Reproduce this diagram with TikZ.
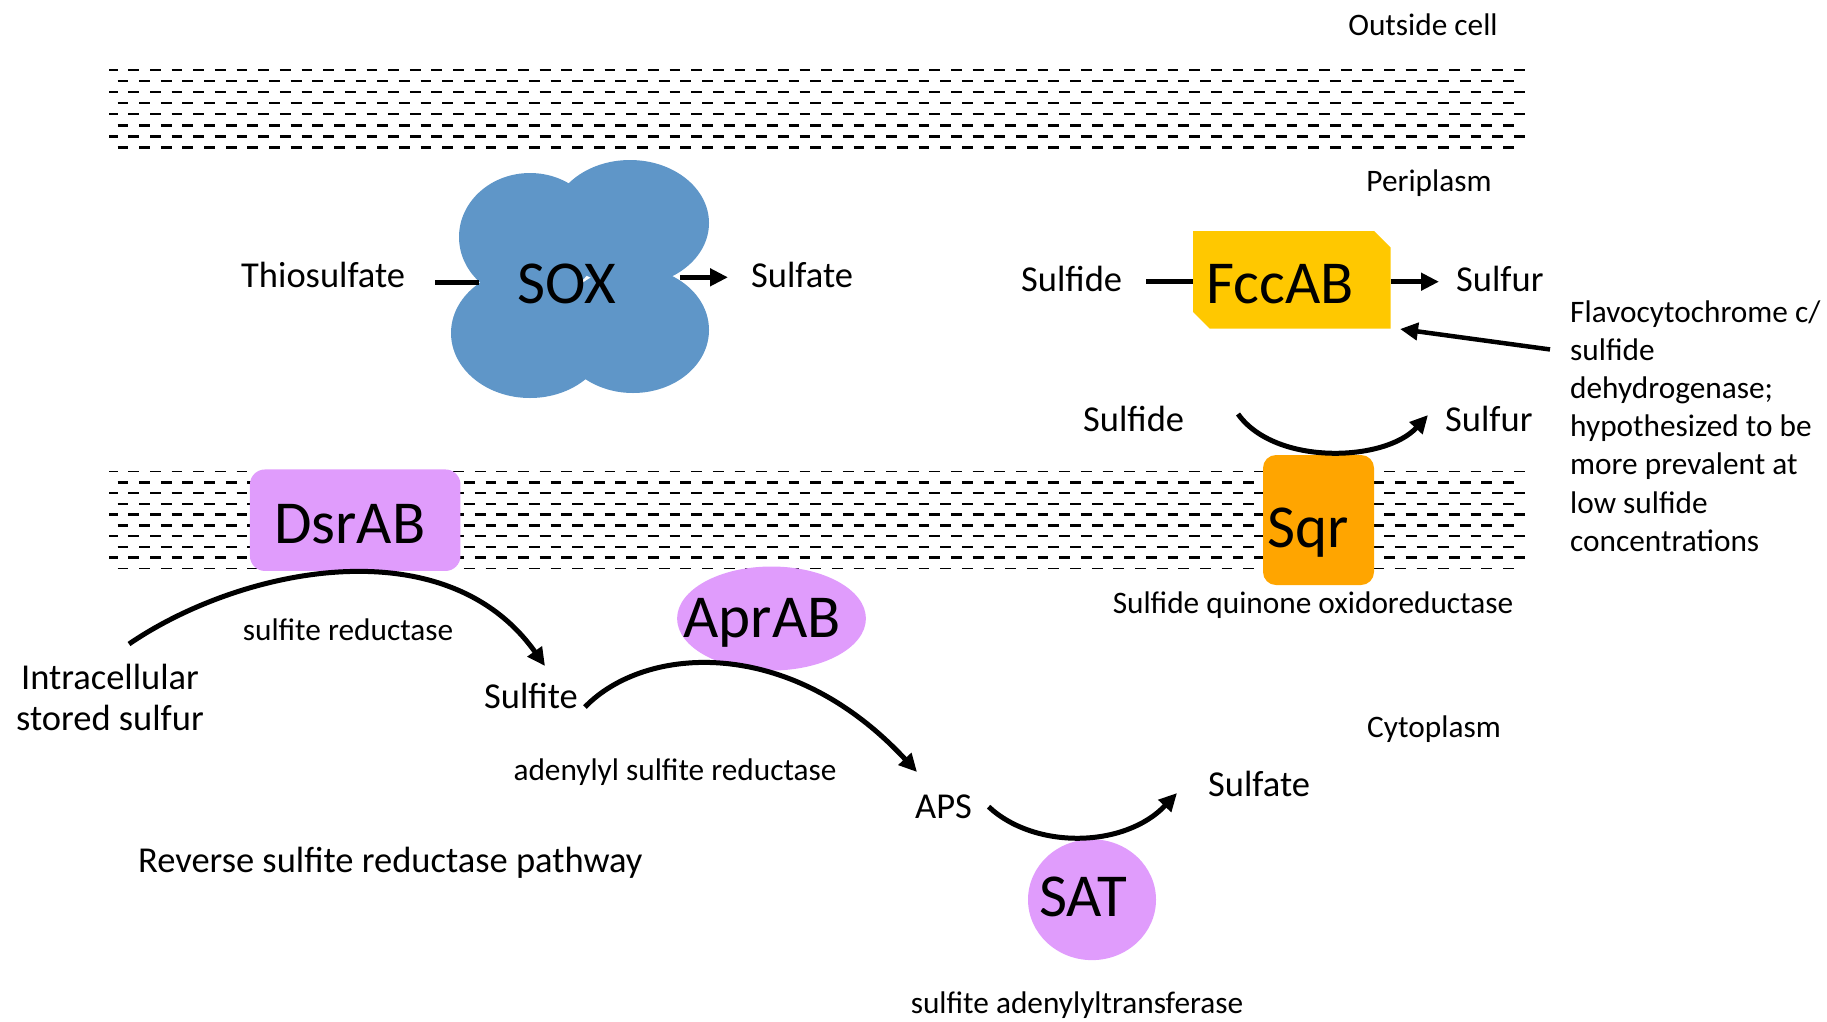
\documentclass[tikz,border=0pt]{standalone}
\usepackage{fontspec}
\setmainfont{Carlito}
\usetikzlibrary{arrows.meta,shapes.geometric}

\definecolor{soxblue}{RGB}{95,150,200}
\definecolor{fccyellow}{RGB}{255,200,0}
\definecolor{sqrorange}{RGB}{255,165,0}
\definecolor{enzviolet}{RGB}{224,156,252}

\begin{document}
\begin{tikzpicture}[x=1pt,y=-1pt,
  lbl/.style={inner sep=0pt, font=\fontsize{36.5}{44}\selectfont},
  small/.style={inner sep=0pt, font=\fontsize{31.3}{38.2}\selectfont},
  big/.style={inner sep=0pt, font=\fontsize{61}{73}\selectfont},
  conn/.style={line width=4.5pt},
  flow/.style={line width=4.5pt, -{Triangle[length=18pt,width=17pt]}},
  curved/.style={flow, line width=5pt},
  memrow/.style={line width=2.6pt, dash pattern=on 10.8pt off 10.85pt},
  enzbox/.style={fill=enzviolet, rounded corners=15pt},
]
\useasboundingbox (0,0) rectangle (1827,1021);

% outer membrane
\foreach \i in {0,...,7} {
  \pgfmathsetmacro\y{70+11.04*\i}
  \ifodd\i \draw[memrow] (117.5,\y) -- (1514,\y);
  \else \draw[memrow, dash phase=2.3pt] (109,\y) -- (1525,\y); \fi
}
% inner membrane
\foreach \i in {0,...,9} {
  \pgfmathsetmacro\y{471.7+10.73*\i}
  \pgfmathsetmacro\w{(\i==0 || \i==9) ? 1.3 : 2.6}
  \ifodd\i \draw[memrow, line width=\w pt] (117.5,\y) -- (1514,\y);
  \else \draw[memrow, line width=\w pt, dash phase=2.3pt] (109,\y) -- (1525,\y); \fi
}

% SOX complex drawn as a four-lobed cloud
\fill[soxblue] (530,237) ellipse [x radius=71, y radius=64];
\fill[soxblue] (630,223) ellipse [x radius=79, y radius=63];
\fill[soxblue] (530,333) ellipse [x radius=79, y radius=65];
\fill[soxblue] (633,330) ellipse [x radius=76, y radius=63];
\coordinate (soxW) at (479,282.7);
\coordinate (soxE) at (680,277.3);

% FccAB, a box with two cut corners
\fill[fccyellow] (1193,231) -- (1374,231) -- (1390.5,247.5) -- (1390.5,328.5)
  -- (1209.5,328.5) -- (1193,312) -- cycle;
\coordinate (fccW) at (1193,281.7);
\coordinate (fccE) at (1390.5,281.7);
\coordinate (fccSE) at (1400,329);

% membrane-bound and cytoplasmic enzymes
\node[fill=sqrorange, rounded corners=13pt, minimum width=111pt, minimum height=130pt, inner sep=0pt] (sqrbox) at (1318.5,520) {};
\node[enzbox, minimum width=210.5pt, minimum height=101.5pt, inner sep=0pt] (dsrbox) at (355.2,520.2) {};
\node[ellipse, fill=enzviolet, minimum width=188.8pt, minimum height=104pt, inner sep=0pt] (aprbox) at (771.5,618.5) {};
\node[ellipse, fill=enzviolet, minimum width=128pt, minimum height=120.8pt, inner sep=0pt] (satbox) at (1092,899.7) {};

% compartment labels
\node[small, anchor=base] (outside) at (1423,35) {Outside cell};
\node[small, anchor=base] (peri) at (1429,191) {Periplasm};
\node[small, anchor=base] (cyto) at (1434,737) {Cytoplasm};

% enzyme names
\node[big, anchor=base] (sox) at (567,303) {SOX};
\node[big, anchor=base] (fcc) at (1280,303) {FccAB};
\node[big, anchor=base] (sqr) at (1308,547) {Sqr};
\node[big, anchor=base] (dsr) at (349.6,543) {DsrAB};
\node[big, anchor=base] (apr) at (762,637) {AprAB};
\node[big, anchor=base] (sat) at (1083,916) {SAT};

% compounds
\node[lbl, anchor=base west] (thio) at (241,287) {Thiosulfate};
\node[lbl, anchor=base west] (sulfateA) at (751,287) {Sulfate};
\node[lbl, anchor=base west] (sulfideA) at (1021,291) {Sulfide};
\node[lbl, anchor=base west] (sulfurA) at (1456,291) {Sulfur};
\node[lbl, anchor=base west] (sulfideB) at (1083,431) {Sulfide};
\node[lbl, anchor=base west] (sulfurB) at (1445,431) {Sulfur};
\node[lbl, anchor=base] (stored1) at (110,689) {Intracellular};
\node[lbl, anchor=base] (stored2) at (110,730) {stored sulfur};
\node[lbl, anchor=base west] (sulfite) at (484,708) {Sulfite};
\node[lbl, anchor=base west] (aps) at (915,818) {APS};
\node[lbl, anchor=base west] (sulfateB) at (1208,796) {Sulfate};
\node[lbl, anchor=base west] (pathway) at (138,872) {Reverse sulfite reductase pathway};

% enzyme descriptions
\node[small, anchor=base] (sqrname) at (1313,613) {Sulfide quinone oxidoreductase};
\node[small, anchor=base] (dsrname) at (348,640) {sulfite reductase};
\node[small, anchor=base] (aprname) at (675,780) {adenylyl sulfite reductase};
\node[small, anchor=base] (satname) at (1077,1013) {sulfite adenylyltransferase};
\foreach \t [count=\i] in {Flavocytochrome c/, sulfide, dehydrogenase;, hypothesized to be, more prevalent at, low sulfide, concentrations}
  \node[small, anchor=base west] (flav\i) at (1570,{322+38.2*(\i-1)}) {\t};

% reaction connectors
\draw[conn] ([xshift=30pt]thio.east |- soxW) -- (soxW);
\draw[flow] (soxE) -- ([xshift=-23pt]sulfateA.west |- soxE);
\draw[conn] ([xshift=24pt]sulfideA.east |- fccW) -- (fccW);
\draw[flow] (fccE) -- ([xshift=-17pt]sulfurA.west |- fccE);
\draw[flow] ([xshift=-20pt]flav2.west) -- (fccSE);

\coordinate (sqrS) at (1238,414);
\coordinate (sqrT) at (1428,415);
\draw[curved] (sqrS) .. controls (1275,466) and (1385,462) .. (sqrT);

\coordinate (dsrS) at (129,644);
\coordinate (dsrT) at (545,666);
\draw[curved] (dsrS) .. controls (240,568) and (445,525) .. (dsrT);

\coordinate (aprS) at (585,707);
\coordinate (aprT) at (917,772);
\draw[curved] (aprS) .. controls (645,645) and (790,635) .. (aprT);

\coordinate (satS) at (988.6,806.7);
\coordinate (satT) at (1177,793);
\draw[curved] (satS) .. controls (1035,850) and (1125,848) .. (satT);
\end{tikzpicture}
\end{document}
